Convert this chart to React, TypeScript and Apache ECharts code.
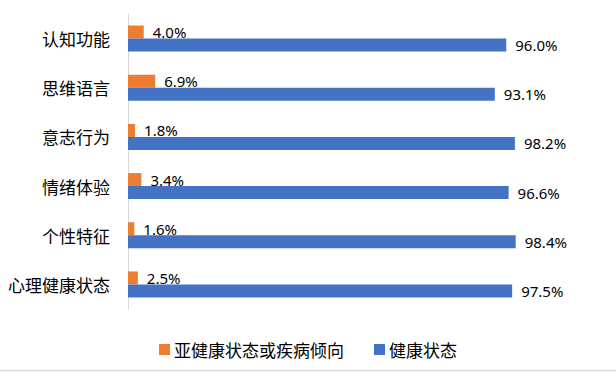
import React, { useEffect, useRef } from "react";
import * as echarts from "echarts";

const categories = ["认知功能", "思维语言", "意志行为", "情绪体验", "个性特征", "心理健康状态"];
const subHealthValues = [4.0, 6.9, 1.8, 3.4, 1.6, 2.5];
const healthValues = [96.0, 93.1, 98.2, 96.6, 98.4, 97.5];
const seriesNames = ["亚健康状态或疾病倾向", "健康状态"];

export default function App() {
  const ref = useRef<HTMLDivElement>(null);
  useEffect(() => {
    document.body.style.margin = "0";
    const chart = echarts.init(ref.current!, undefined, { renderer: "svg" });
    const labelFont = {
      fontSize: 15,
      color: "#000",
      fontFamily: "Noto Sans, Noto Sans CJK SC, sans-serif",
      formatter: (p: any) => p.value.toFixed(1) + "%",
    };
    chart.setOption({
      animation: false,
      grid: { left: 128, right: 94, top: 14, bottom: 63, containLabel: false },
      legend: {
        left: "center",
        top: 336,
        itemWidth: 11,
        itemHeight: 11,
        itemGap: 30,
        icon: "rect",
        textStyle: { fontSize: 17, color: "#000", fontFamily: "Noto Sans CJK SC, sans-serif", padding: [0, 0, 0, -1] },
        data: seriesNames,
      },
      xAxis: { type: "value", min: 0, max: 100, show: false },
      yAxis: {
        type: "category",
        data: categories,
        inverse: true,
        axisLine: { show: true, lineStyle: { color: "#d9d9d9", width: 1 } },
        axisTick: { show: false },
        axisLabel: { fontSize: 17, color: "#000", margin: 18, fontFamily: "Noto Sans CJK SC, sans-serif" },
      },
      series: [
        {
          name: seriesNames[0],
          type: "bar",
          data: subHealthValues,
          barWidth: 13,
          barGap: "0%",
          itemStyle: { color: "#ED7D31" },
          label: { show: true, position: "right", distance: 9, ...labelFont },
        },
        {
          name: seriesNames[1],
          type: "bar",
          data: healthValues,
          barWidth: 13,
          barGap: "0%",
          itemStyle: { color: "#4472C4" },
          label: { show: true, position: "right", distance: 9, ...labelFont },
        },
      ],
      graphic: [
        {
          type: "line",
          shape: { x1: 0, y1: 370.5, x2: 616, y2: 370.5 },
          style: { stroke: "#d9d9d9", lineWidth: 1.5 },
        },
      ],
    });
    return () => chart.dispose();
  }, []);
  return <div ref={ref} style={{ width: 616, height: 372 }} />;
}
